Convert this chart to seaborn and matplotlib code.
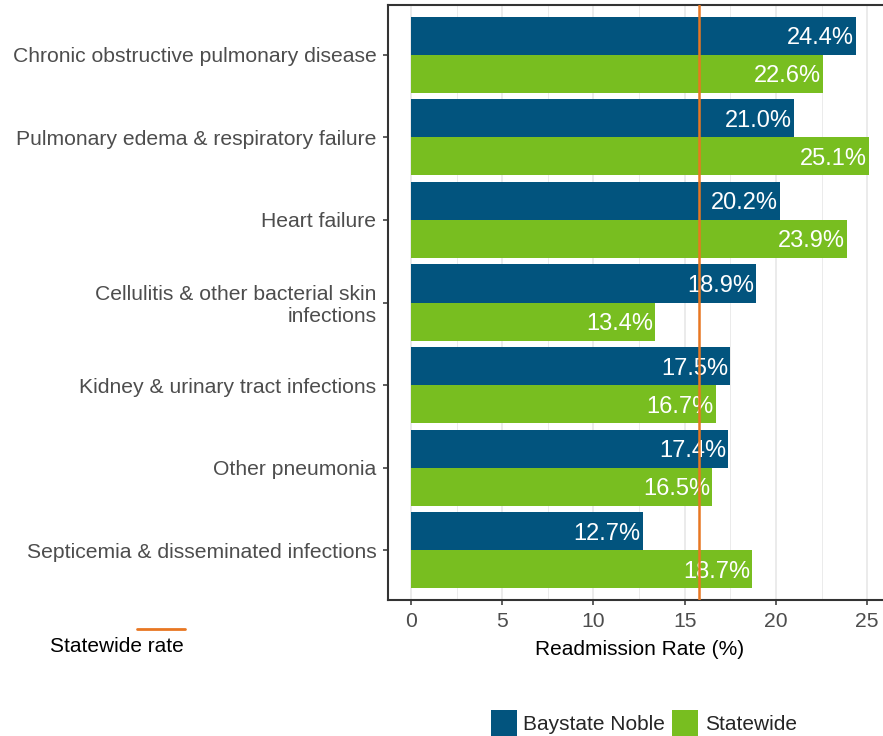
import numpy as np
import pandas as pd
import seaborn as sns
import matplotlib
matplotlib.use("Agg")
import matplotlib.pyplot as plt
from matplotlib.patches import Patch
from matplotlib.lines import Line2D

# Data
conditions = [
    "Chronic obstructive pulmonary disease",
    "Pulmonary edema & respiratory failure",
    "Heart failure",
    "Cellulitis & other bacterial skin\ninfections",
    "Kidney & urinary tract infections",
    "Other pneumonia",
    "Septicemia & disseminated infections",
]
baystate = [24.4, 21.0, 20.2, 18.9, 17.5, 17.4, 12.7]
statewide = [22.6, 25.1, 23.9, 13.4, 16.7, 16.5, 18.7]
groups = ["Baystate Noble", "Statewide"]
statewide_rate = 15.8
x_ticks = [0, 5, 10, 15, 20, 25]

colors = {"Baystate Noble": "#02547E", "Statewide": "#78BE20"}
rate_color = "#E87722"

df = pd.DataFrame({
    "condition": conditions * 2,
    "group": [groups[0]] * len(conditions) + [groups[1]] * len(conditions),
    "rate": baystate + statewide,
})

sns.set_theme(style="white")
plt.rcParams['font.family'] = ['Liberation Sans', 'DejaVu Sans']

fig = plt.figure(figsize=(8.83, 7.36), dpi=100)
ax = fig.add_axes([388 / 883, 136 / 736, 504 / 883, 595 / 736])

sns.barplot(data=df, y="condition", x="rate", hue="group", hue_order=groups,
            order=conditions, palette=colors, width=0.92, gap=0, dodge=True,
            saturation=1, legend=False, orient="h", linewidth=0, ax=ax)

# value labels inside bar ends
for cont in ax.containers:
    texts = ax.bar_label(cont, fmt="%.1f%%", padding=-1.5, color="white",
                         fontsize=17, zorder=4)
    for t in texts:
        t.set_ha("right")
        t.set_va("center_baseline")

ax.axvline(statewide_rate, color=rate_color, lw=1.8, zorder=6)

ax.set_xlim(-1.255, 26.36)
ax.set_ylim(6.6, -0.6)
ax.set_xticks(x_ticks)
ax.set_xticks([2.5, 7.5, 12.5, 17.5, 22.5], minor=True)
ax.grid(axis="x", which="major", color="#EBEBEB", lw=1.4)
ax.grid(axis="x", which="minor", color="#EBEBEB", lw=0.7)
ax.grid(False, axis="y")
ax.set_axisbelow(True)

ax.tick_params(axis="both", which="major", left=True, bottom=True, length=3.8,
               width=1.1, color="#333333", labelsize=15.2, labelcolor="#4D4D4D",
               pad=4.5)
ax.tick_params(axis="x", which="minor", bottom=False)
for s in ax.spines.values():
    s.set_visible(True)
    s.set_color("#333333")
    s.set_linewidth(1.5)

ax.set_ylabel("")
ax.set_xlabel("Readmission Rate (%)", fontsize=15, color="black", labelpad=7)

# Statewide rate key
fig.add_artist(Line2D([137 / 883, 185 / 883], [1 - 629 / 736] * 2,
                      color=rate_color, lw=2, transform=fig.transFigure))
fig.text(50 / 883, 1 - 647 / 736, "Statewide rate", ha="left", va="center",
         fontsize=15, color="black")

handles = [Patch(facecolor=colors[g], edgecolor="none", label=g) for g in groups]
fig.legend(handles=handles, loc="upper left",
           bbox_to_anchor=(491 / 883, 1 - 710 / 736), ncol=2, frameon=False,
           fontsize=15, handlelength=1.25, handleheight=1.6,
           handletextpad=0.3, columnspacing=0.35, borderaxespad=0, borderpad=0)

fig.savefig("out.png", dpi=100)
